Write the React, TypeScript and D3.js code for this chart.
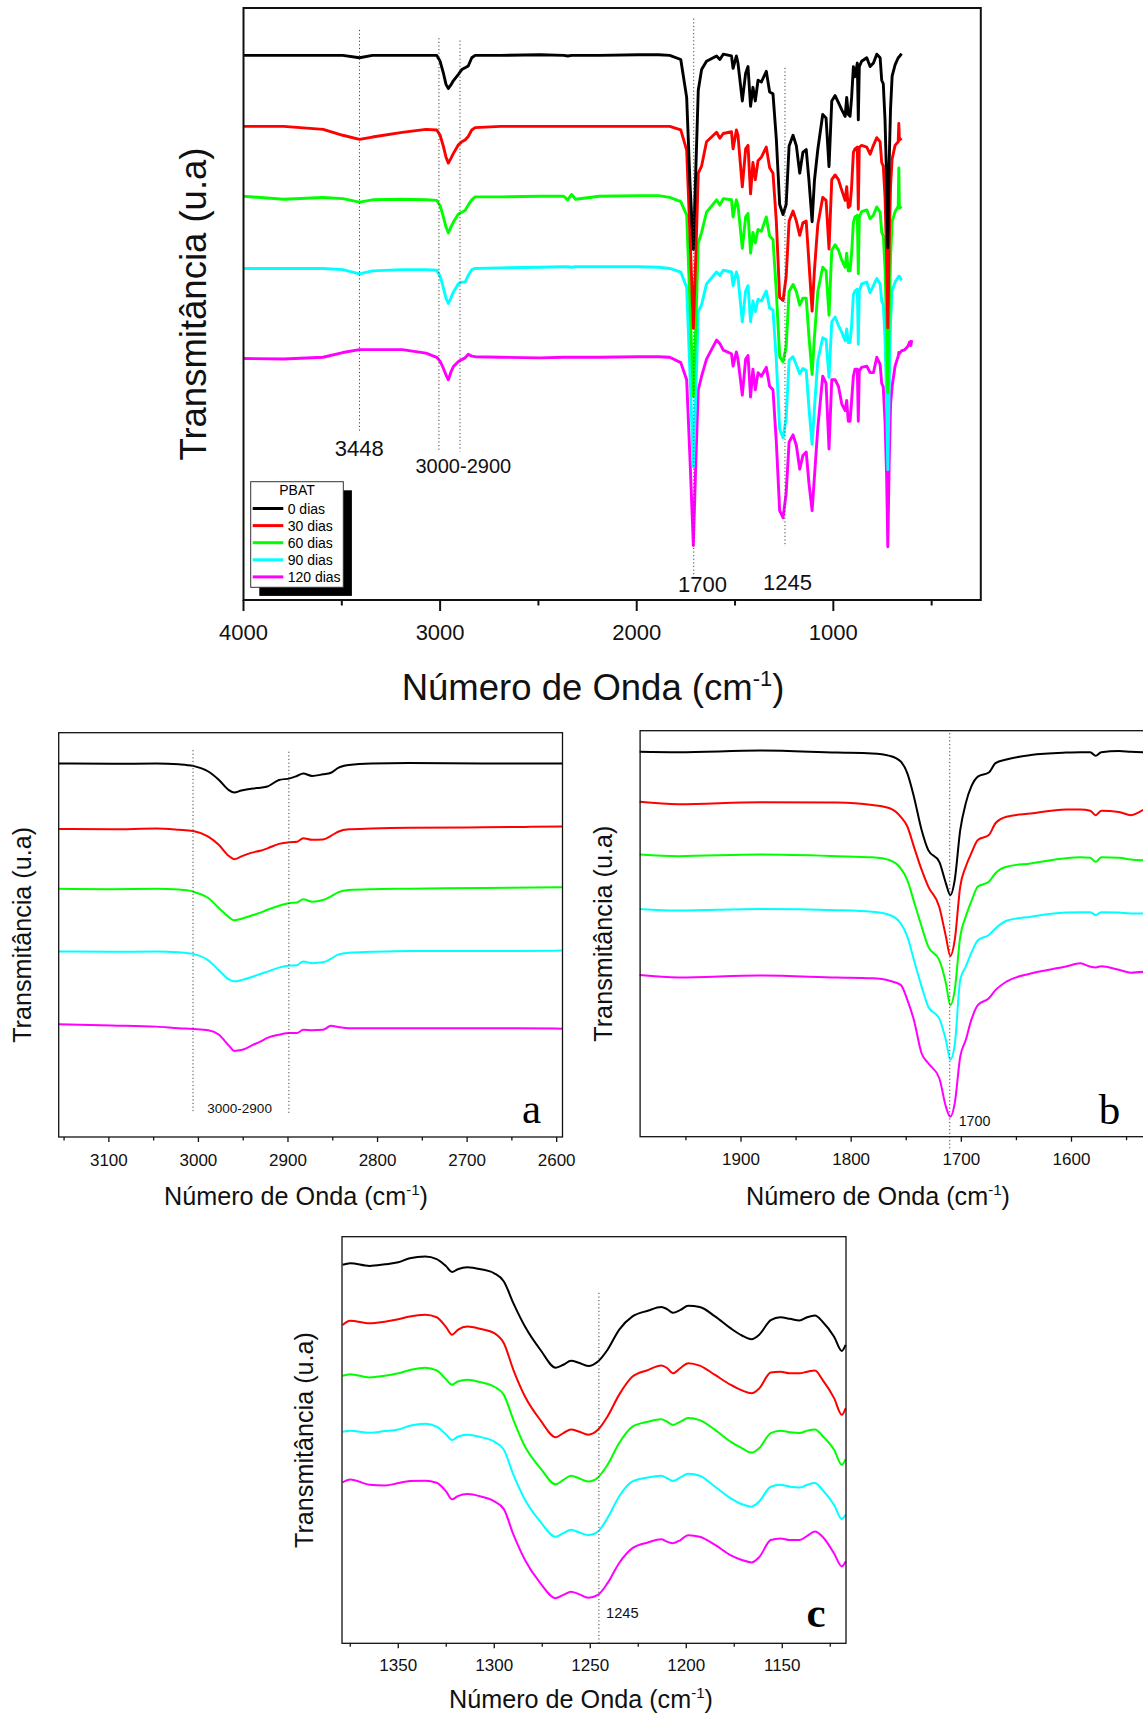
import React from "react";
import * as d3 from "d3";

const seriesLabels = ["0 dias", "30 dias", "60 dias", "90 dias", "120 dias"];
const seriesColors = ["#000000", "#ff0000", "#00ff00", "#00ffff", "#ff00ff"];

// ---------- full spectrum 4000-600 cm-1 (offset + deviation, u.a.)
const mainWn = [
  4000, 3796, 3595, 3495, 3410, 3344, 3193, 3072, 3017, 3000,
  2984, 2970, 2958, 2945, 2933, 2907, 2890, 2873, 2857, 2839,
  2822, 2692, 2491, 2371, 2351, 2331, 2311, 2190, 1990, 1889, 1832,
  1776, 1746, 1729, 1712, 1699, 1687, 1670, 1645, 1594, 1577,
  1560, 1518, 1510, 1493, 1485, 1463, 1446, 1434, 1421, 1409,
  1397, 1383, 1366, 1341, 1324, 1307, 1290, 1273, 1256, 1240,
  1225, 1205, 1188, 1171, 1155, 1138, 1124, 1108, 1096, 1079,
  1054, 1037, 1022, 1008, 991, 974, 957, 940, 932, 924,
  915, 907, 898, 890, 878, 873, 868, 856, 830, 813,
  796, 779, 762, 754, 746, 737, 729, 723, 716, 709,
  701, 686, 670, 667, 664, 653,
  640, 630, 620, 612, 606, 601,
];
const mainOffsets = [92, 80, 68, 56, 41];
const main0 = [
  0, 0, 0, 0, -0.4, 0, 0, 0, 0, -1.0,
  -2.9, -4.9, -5.6, -5.0, -4.3, -3.2, -2.4, -2.1, -1.8, -0.4,
  0, 0, 0.1, 0, -0.1, 0, 0, 0, 0.1, 0.1, 0,
  -0.7, -7.1, -21.7, -32.8, -18.8, -5.9, -2.4, -1.0, -0.1, -0.7,
  0.2, -0.1, -2.2, -0.1, -1.3, -7.7, -3.0, -1.9, -8.6, -5.4,
  -7.7, -4.2, -4.5, -2.7, -6.2, -6.5, -14.1, -25.2, -26.9, -25.2,
  -15.3, -13.5, -15.3, -19.9, -16.4, -15.9, -21.1, -28.1, -21.1, -15.9,
  -10.0, -10.6, -18.8, -7.7, -6.8, -8.0, -9.2, -10.3, -7.1, -10.0,
  -10.3, -7.1, -1.9, -3.6, -1.3, -10.9, -1.9, -1.0, -0.4, -1.9,
  -1.3, 0.2, -0.4, -4.2, -4.8, -11, -21, -32.5, -18, -9,
  -3.5, -1.6, -0.4, -0.3, -0.2, 0.3,
];
const main30 = [
  0, 0, -0.5, -1.5, -2.2, -1.8, -1.0, -0.5, -0.6, -1.5,
  -3.3, -5.2, -6.2, -5.4, -4.6, -3.1, -2.6, -2.3, -1.7, -0.6,
  -0.2, 0, 0, 0, 0, 0, 0, 0, 0, 0, 0,
  -0.6, -4.0, -18.4, -34.1, -21.3, -7.9, -6.7, -2.6, -1.0, -2.0,
  -1.2, -0.9, -3.8, -0.6, -1.5, -10.2, -3.8, -3.2, -11.4, -6.1,
  -9.0, -5.8, -5.2, -3.5, -7.0, -7.9, -16.0, -28.9, -29.4, -25.4,
  -16.0, -14.3, -16.0, -18.4, -16.3, -16.0, -23.0, -31.2, -24.2, -16.6,
  -12.0, -12.5, -20.7, -9.0, -8.2, -9.0, -10.8, -12.5, -10.2, -13.7,
  -13.4, -10.2, -4.4, -3.8, -3.5, -14.0, -3.5, -3.2, -3.5, -4.7,
  -3.2, -1.9, -2.6, -6.1, -6.7, -12, -22, -34, -20, -10,
  -5.5, -3.2, -2.6, 0.5, -2.3, -2.0,
];
const main60 = [
  0.2, -0.3, 0, -0.2, -0.8, -0.4, -0.3, -0.4, -0.5, -1.4,
  -3.2, -5.0, -6.0, -5.0, -4.2, -2.8, -2.5, -2.2, -1.3, -0.4,
  0.1, 0.1, 0.2, 0.2, -0.4, 0.5, -0.3, 0.2, 0.3, 0.3, 0,
  -0.7, -3.0, -18.2, -33.6, -21.1, -7.7, -5.9, -2.5, -0.4, -1.3,
  -0.2, -0.4, -3.3, -0.4, -1.3, -8.6, -3.3, -2.7, -9.4, -5.9,
  -7.7, -5.4, -5.7, -3.3, -6.5, -7.1, -15.9, -26.9, -27.8, -25.2,
  -15.9, -14.7, -15.9, -18.2, -17.0, -17.0, -23.5, -29.9, -23.5, -15.9,
  -11.8, -12.4, -19.9, -8.9, -8.0, -8.9, -10.6, -11.8, -9.4, -12.4,
  -12.4, -9.4, -4.2, -3.3, -3.0, -12.9, -3.3, -2.4, -2.1, -3.6,
  -3.0, -1.6, -2.5, -5.9, -6.5, -12, -22, -33, -20, -10,
  -4.1, -2.4, -1.5, 5.0, -1.8, -1.5,
];
const main90 = [
  0, 0, 0, -0.2, -0.9, -0.4, -0.2, -0.2, -0.3, -1.3,
  -3.2, -5.0, -5.9, -5.0, -4.0, -2.6, -2.3, -2.3, -1.2, -0.2,
  0, 0.1, 0.2, 0.3, 0.3, 0.2, 0.3, 0.3, 0.3, 0.2, 0,
  -0.6, -3.2, -17.8, -33.5, -20.7, -7.3, -6.1, -2.6, -0.6, -1.2,
  -0.3, -0.6, -2.9, -0.6, -1.5, -9.0, -3.8, -2.9, -9.0, -5.5,
  -7.3, -5.2, -5.5, -3.8, -6.7, -7.0, -15.5, -27.1, -28.6, -25.4,
  -15.5, -14.9, -16.3, -17.8, -16.9, -17.2, -23.6, -29.7, -23.6, -15.5,
  -11.7, -12.0, -18.4, -9.0, -8.2, -9.6, -10.8, -12.2, -10.2, -12.5,
  -12.5, -9.6, -4.4, -3.8, -3.5, -12.8, -3.8, -2.6, -2.3, -4.1,
  -2.9, -1.7, -2.6, -5.5, -6.1, -12, -22, -34, -20, -9,
  -3.8, -2.3, -1.5, -1.3, -1.3, -2.0,
];
const main120 = [
  -0.2, -0.3, 0, 0.8, 1.3, 1.3, 1.3, 0.7, 0, -0.7,
  -1.8, -3.0, -3.8, -2.5, -1.6, -0.7, -0.4, -0.1, 0.5, 0.2,
  0.1, 0, -0.1, 0, 0, 0, 0, 0, 0.1, 0.1, 0,
  -0.9, -3.8, -17.2, -31.8, -17.2, -5.5, -3.2, -0.3, 2.9, 2.3,
  1.2, 0.6, -1.5, 0.9, -0.3, -6.4, -0.3, 0.3, -6.7, -2.0,
  -5.5, -2.6, -3.2, -1.7, -4.9, -5.5, -14.3, -25.9, -27.1, -23.0,
  -14.3, -13.1, -14.9, -18.9, -16.6, -16.0, -21.3, -25.9, -20.1, -11.9,
  -3.2, -4.4, -15.5, -3.8, -3.8, -4.9, -7.9, -9.0, -7.3, -10.8,
  -10.8, -7.3, -3.2, -2.0, -2.0, -10.8, -2.3, -1.7, -1.5, -2.6,
  -2.6, 0, -1.2, -4.4, -5.0, -11, -20, -32, -18, -8,
  -4.9, -1.5, 0.2, 0.8, 0.6, 1.1,
  1.2, 1.5, 1.9, 2.6, 2.0, 2.9,
];

// ---------- panel a: 3150-2600 cm-1
const aWn = [3156, 3097, 3047, 3022, 3006, 2989, 2977, 2966, 2960, 2952, 2939, 2931, 2923,
  2910, 2898, 2890, 2883, 2873, 2861, 2852, 2844, 2832, 2807, 2765, 2682, 2594];
const a0 = [92.4, 92.3, 92.4, 92.2, 91.8, 90.4, 88.3, 85.8, 85.2, 85.7, 86.2, 86.4, 86.7,
  88.3, 88.7, 89.3, 89.9, 89.3, 89.7, 90.1, 91.3, 92.0, 92.4, 92.5, 92.4, 92.4];
const a30 = [76.2, 76.1, 76.3, 76.0, 75.7, 74.3, 72.2, 69.5, 68.7, 69.4, 70.4, 70.8, 71.4,
  72.5, 72.9, 73.0, 73.9, 73.5, 73.6, 74.5, 75.5, 76.1, 76.3, 76.5, 76.6, 76.8];
const a60 = [61.4, 61.3, 61.4, 61.2, 60.7, 59.1, 56.6, 54.4, 53.6, 54.0, 54.9, 55.5, 56.2,
  57.2, 57.9, 58.0, 58.8, 58.2, 58.6, 59.5, 60.5, 61.1, 61.3, 61.4, 61.6, 61.8];
const a90 = [45.9, 45.8, 45.9, 45.7, 45.3, 43.7, 41.2, 39.0, 38.5, 38.8, 39.7, 40.3, 40.9,
  41.9, 42.4, 42.5, 43.4, 43.0, 43.2, 44.1, 45.1, 45.6, 45.8, 46.0, 46.0, 46.1];
const a120 = [27.9, 27.6, 27.3, 26.9, 26.7, 26.4, 25.3, 22.6, 21.3, 21.5, 22.8, 23.6, 24.5,
  25.3, 25.7, 25.7, 26.5, 26.4, 26.5, 27.5, 27.2, 26.9, 26.9, 26.9, 26.9, 26.8];

// ---------- panel b: 1990-1535 cm-1
const bWn = [1992, 1957, 1883, 1813, 1781, 1765, 1755, 1749, 1743, 1736,
  1730, 1720, 1714, 1710, 1706, 1701, 1696, 1691, 1685, 1675,
  1669, 1659, 1637, 1605, 1592, 1583, 1578, 1573, 1557, 1546, 1535];
const b0 = [94.8, 94.7, 95.1, 94.6, 94.4, 93.8, 92.4, 89.5, 83.7, 75.5,
  70.6, 67.7, 62.4, 59.5, 63.2, 75.5, 82.1, 86.2, 88.7, 89.7,
  92.0, 92.9, 94.0, 94.6, 94.7, 94.7, 93.8, 94.7, 95.0, 94.8, 94.7];
const b30 = [82.5, 81.9, 82.4, 82.3, 81.7, 80.9, 78.8, 76.4, 71.4, 65.7,
  61.6, 56.6, 49.3, 44.5, 48.4, 61.6, 66.5, 69.8, 73.1, 74.3,
  77.2, 78.8, 79.6, 80.6, 80.6, 80.3, 79.2, 80.3, 80.0, 79.2, 80.5];
const b60 = [69.5, 69.1, 69.5, 69.1, 68.8, 68.1, 66.1, 63.2, 57.9, 51.7,
  46.8, 43.5, 37.8, 32.4, 36.1, 49.3, 54.2, 57.9, 61.6, 62.8,
  64.9, 66.5, 67.3, 68.6, 68.8, 68.7, 67.7, 68.8, 68.7, 68.3, 68.1];
const b90 = [56.1, 55.7, 56.1, 55.8, 55.4, 54.6, 52.5, 49.3, 43.5, 36.9,
  32.0, 29.1, 23.8, 19.0, 22.6, 38.6, 41.9, 45.2, 48.4, 49.7,
  51.3, 53.2, 54.2, 55.2, 55.3, 55.3, 54.6, 55.3, 55.2, 55.0, 55.0];
const b120 = [39.8, 39.2, 39.7, 39.2, 39.0, 38.4, 37.4, 33.7, 28.7, 20.5,
  18.1, 14.4, 7.4, 4.9, 8.2, 19.7, 23.8, 28.7, 32.4, 34.1,
  36.1, 38.2, 40.2, 41.9, 42.7, 41.9, 41.7, 42.0, 41.1, 40.4, 40.6];

// ---------- panel c: 1380-1115 cm-1
const cWn = [1379, 1375, 1365, 1357, 1350, 1344, 1336, 1330, 1325, 1322,
  1319, 1314, 1307, 1300, 1295, 1290, 1284, 1276, 1268, 1264,
  1260, 1256, 1251, 1246, 1241, 1235, 1228, 1220, 1213, 1210,
  1207, 1203, 1199, 1193, 1185, 1177, 1171, 1166, 1162, 1156,
  1151, 1146, 1141, 1137, 1133, 1129, 1123, 1119, 1117];
const c0 = [93.1, 93.5, 92.8, 93.2, 93.7, 94.7, 95.1, 94.5, 92.7, 91.3,
  92.0, 92.5, 92.0, 91.0, 89.0, 83.6, 77.9, 72.2, 67.8, 68.5,
  69.5, 69.0, 68.2, 69.3, 72.2, 77.1, 80.4, 81.8, 82.7, 82.2,
  81.3, 82.0, 83.0, 82.7, 80.4, 77.5, 75.7, 74.8, 75.9, 79.5,
  80.2, 79.8, 79.4, 80.2, 80.6, 79.1, 75.4, 71.9, 73.4];
const c30 = [78.3, 79.3, 78.7, 79.1, 79.7, 80.4, 80.8, 80.2, 77.7, 75.9,
  77.1, 77.9, 77.3, 76.3, 73.8, 67.2, 60.7, 54.9, 50.7, 51.7,
  52.6, 52.1, 51.3, 52.5, 55.8, 61.1, 65.6, 67.2, 68.3, 67.7,
  66.4, 67.7, 68.9, 68.3, 66.0, 63.6, 62.2, 61.5, 62.7, 66.6,
  66.8, 66.4, 66.4, 66.8, 67.1, 64.8, 60.3, 56.2, 57.8];
const c60 = [65.8, 66.2, 65.4, 65.8, 66.4, 67.2, 67.8, 67.1, 64.9, 63.6,
  64.4, 64.8, 64.2, 63.1, 61.1, 54.9, 48.4, 43.1, 39.1, 40.2,
  41.2, 40.6, 39.8, 40.8, 43.9, 49.2, 53.3, 54.5, 55.1, 54.5,
  53.7, 54.5, 55.4, 54.9, 52.5, 49.6, 48.0, 46.9, 48.0, 51.7,
  52.3, 51.9, 51.7, 52.3, 52.6, 51.0, 47.6, 43.9, 45.3];
const c90 = [52.0, 52.3, 51.8, 52.2, 52.6, 53.5, 54.0, 53.3, 51.3, 50.0,
  50.8, 51.3, 50.7, 49.6, 47.6, 41.4, 35.3, 29.9, 26.2, 27.1,
  27.9, 27.3, 26.6, 27.5, 30.8, 36.1, 39.8, 40.8, 41.2, 40.6,
  39.9, 40.8, 41.7, 41.2, 38.5, 35.7, 34.2, 33.6, 34.9, 38.5,
  39.0, 38.5, 38.3, 39.0, 39.4, 37.7, 34.0, 30.6, 31.6];
const c120 = [39.6, 40.3, 39.0, 38.8, 39.4, 39.9, 40.0, 39.5, 37.3, 35.4,
  36.2, 36.7, 36.1, 34.9, 33.0, 26.7, 20.5, 14.8, 11.1, 11.9,
  12.7, 12.1, 11.2, 11.9, 14.8, 19.7, 23.4, 24.8, 25.6, 25.0,
  24.6, 25.4, 26.6, 26.2, 24.2, 21.7, 20.5, 19.9, 21.2, 25.4,
  25.8, 25.4, 25.4, 26.4, 27.5, 26.2, 22.1, 18.9, 20.1];

// ticks
const mainMajor = [4000, 3000, 2000, 1000];
const mainMinor = [3500, 2500, 1500, 500];
const aMajor = [3100, 3000, 2900, 2800, 2700, 2600];
const aMinor = [3150, 3050, 2950, 2850, 2750, 2650];
const bMajor = [1900, 1800, 1700, 1600];
const bMinor = [1950, 1850, 1750, 1650, 1550];
const cMajor = [1350, 1300, 1250, 1200, 1150];
const cMinor = [1375, 1325, 1275, 1225, 1175, 1125];

// reference lines [wavenumber, from, to] and notes
const mainMarks = [[3410, 96.3, 28.2], [3006, 94.9, 25.1], [2899, 94.5, 25.1], [1710, 98.2, 3.9], [1246, 89.9, 9.0]];
const mainNotes = [
  { t: "3448", wn: 3411, v: 24.3, s: 22 },
  { t: "3000-2900", wn: 2882, v: 21.4, s: 20 },
  { t: "1700", wn: 1665, v: 1.4, s: 22 },
  { t: "1245", wn: 1233, v: 1.7, s: 22 },
];
const aMarks = [[3006, 95.7, 6.4], [2899, 95.3, 5.9]];
const aNotes = [{ t: "3000-2900", wn: 2954, v: 5.9, s: 13.5 }];
const bMarks = [[1710.5, 99.4, -3.3]];
const bNotes = [{ t: "1700", wn: 1688, v: 2.6, s: 14.3 }];
const cMarks = [[1245.5, 86.2, 0]];
const cNotes = [{ t: "1245", wn: 1233.3, v: 6.3, s: 14.7 }];

const SANS = "'Liberation Sans', Arial, Helvetica, sans-serif";
const SERIF = "'Liberation Serif', 'Times New Roman', serif";

type Box = { left: number; right: number; top: number; bottom: number };
type Cfg = {
  box: Box;
  domain: [number, number];
  wn: number[];
  series: number[][];
  offsets?: number[];
  major: number[];
  minor: number[];
  marks: number[][];
  notes: { t: string; wn: number; v: number; s: number }[];
  curve: d3.CurveFactory;
  lw: number;
  frameW: number;
  tickLen: [number, number];
  tickFont: number;
  tickDy: number;
  titleFont: number;
  yTitleFont: number;
  titleX: number;
  titleY: number;
  yTitleX: number;
  letter?: { t: string; wn: number; v: number; bold?: boolean };
};

function Panel({ c }: { c: Cfg }) {
  const x = d3.scaleLinear().domain(c.domain).range([c.box.left, c.box.right]);
  const y = d3.scaleLinear().domain([0, 100]).range([c.box.bottom, c.box.top]);
  const line = d3
    .line<[number, number]>()
    .x((d) => x(d[0]))
    .y((d) => y(d[1]))
    .curve(c.curve);
  const order = [4, 3, 2, 1, 0];
  const sup = c.titleFont * 0.6;
  const raise = c.titleFont * 0.38;
  return (
    <g>
      {order.map((i) => {
        const off = c.offsets ? c.offsets[i] : 0;
        const pts = c.series[i].map((v, j) => [c.wn[j], off + v] as [number, number]);
        return (
          <path
            key={i}
            d={line(pts) || ""}
            fill="none"
            stroke={seriesColors[i]}
            strokeWidth={c.lw}
            strokeLinejoin="round"
          />
        );
      })}
      {c.marks.map((m, i) => (
        <line
          key={"m" + i}
          x1={x(m[0])}
          x2={x(m[0])}
          y1={y(m[1])}
          y2={y(m[2])}
          stroke="#444"
          strokeWidth={1}
          strokeDasharray="1.2,2.4"
        />
      ))}
      {c.notes.map((n, i) => (
        <text key={"n" + i} x={x(n.wn)} y={y(n.v)} fontSize={n.s} textAnchor="middle" fontFamily={SANS} fill="#111">
          {n.t}
        </text>
      ))}
      {c.letter && (
        <text
          x={x(c.letter.wn)}
          y={y(c.letter.v)}
          fontSize={43}
          textAnchor="middle"
          fontFamily={SERIF}
          fontWeight={c.letter.bold ? "bold" : "normal"}
        >
          {c.letter.t}
        </text>
      )}
      <rect
        x={c.box.left}
        y={c.box.top}
        width={c.box.right - c.box.left}
        height={c.box.bottom - c.box.top}
        fill="none"
        stroke="#111"
        strokeWidth={c.frameW}
      />
      {c.major.map((t) => (
        <g key={"t" + t}>
          <line x1={x(t)} x2={x(t)} y1={c.box.bottom} y2={c.box.bottom + c.tickLen[0]} stroke="#111" strokeWidth={c.frameW} />
          <text x={x(t)} y={c.box.bottom + c.tickDy} fontSize={c.tickFont} textAnchor="middle" fontFamily={SANS} fill="#111">
            {t}
          </text>
        </g>
      ))}
      {c.minor.map((t) => (
        <line key={"k" + t} x1={x(t)} x2={x(t)} y1={c.box.bottom} y2={c.box.bottom + c.tickLen[1]} stroke="#111" strokeWidth={c.frameW} />
      ))}
      <text x={c.titleX} y={c.titleY} fontSize={c.titleFont} textAnchor="middle" fontFamily={SANS} fill="#111">
        Número de Onda (cm
        <tspan fontSize={sup} dy={-raise}>-1</tspan>
        <tspan dy={raise}>)</tspan>
      </text>
      <text
        transform={`translate(${c.yTitleX},${(c.box.top + c.box.bottom) / 2}) rotate(-90)`}
        fontSize={c.yTitleFont}
        textAnchor="middle"
        fontFamily={SANS}
        fill="#111"
      >
        Transmitância (u.a)
      </text>
    </g>
  );
}

export default function App() {
  const mainCfg: Cfg = {
    box: { left: 243.5, right: 980.8, top: 8, bottom: 600 },
    domain: [4000, 250],
    wn: mainWn,
    series: [main0, main30, main60, main90, main120],
    offsets: mainOffsets,
    major: mainMajor,
    minor: mainMinor,
    marks: mainMarks,
    notes: mainNotes,
    curve: d3.curveLinear,
    lw: 2.9,
    frameW: 2,
    tickLen: [11, 5.5],
    tickFont: 22,
    tickDy: 40,
    titleFont: 36.5,
    yTitleFont: 36.5,
    titleX: 593,
    titleY: 700,
    yTitleX: 206,
  };
  const aCfg: Cfg = {
    box: { left: 58.7, right: 562.5, top: 732.7, bottom: 1137 },
    domain: [3156, 2593.5],
    wn: aWn,
    series: [a0, a30, a60, a90, a120],
    major: aMajor,
    minor: aMinor,
    marks: aMarks,
    notes: aNotes,
    curve: d3.curveMonotoneX,
    lw: 2,
    frameW: 1.3,
    tickLen: [5, 3.5],
    tickFont: 17,
    tickDy: 29,
    titleFont: 25.2,
    yTitleFont: 25.2,
    titleX: 296,
    titleY: 1205,
    yTitleX: 31,
    letter: { t: "a", wn: 2628, v: 3.4 },
  };
  const bCfg: Cfg = {
    box: { left: 640.1, right: 1148.6, top: 730.7, bottom: 1136.7 },
    domain: [1991.6, 1530],
    wn: bWn,
    series: [b0, b30, b60, b90, b120],
    major: bMajor,
    minor: bMinor,
    marks: bMarks,
    notes: bNotes,
    curve: d3.curveMonotoneX,
    lw: 2,
    frameW: 1.3,
    tickLen: [5, 3.5],
    tickFont: 17,
    tickDy: 28.5,
    titleFont: 25.2,
    yTitleFont: 25.2,
    titleX: 878,
    titleY: 1205,
    yTitleX: 612,
    letter: { t: "b", wn: 1565.6, v: 3.1 },
  };
  const cCfg: Cfg = {
    box: { left: 342, right: 846, top: 1236.7, bottom: 1643.3 },
    domain: [1379.3, 1116.8],
    wn: cWn,
    series: [c0, c30, c60, c90, c120],
    major: cMajor,
    minor: cMinor,
    marks: cMarks,
    notes: cNotes,
    curve: d3.curveMonotoneX,
    lw: 2,
    frameW: 1.3,
    tickLen: [5, 3.5],
    tickFont: 17,
    tickDy: 28,
    titleFont: 25.2,
    yTitleFont: 25.2,
    titleX: 581,
    titleY: 1708,
    yTitleX: 313,
    letter: { t: "c", wn: 1132.4, v: 4.0, bold: true },
  };

  // legend
  const lg = { x: 250.7, y: 481.7, w: 92.6, h: 105.6, shadow: 8.6 };
  const rowY = d3.range(seriesLabels.length).map((i) => lg.y + 26.8 + i * 17.1);

  return (
    <svg
      width={1143}
      height={1718}
      style={{ position: "absolute", left: 0, top: 0, background: "#fff" }}
    >
      <rect width={1143} height={1718} fill="#fff" />
      <Panel c={mainCfg} />
      <Panel c={aCfg} />
      <Panel c={bCfg} />
      <Panel c={cCfg} />
      <g>
        <rect x={lg.x + lg.shadow} y={lg.y + lg.shadow} width={lg.w} height={lg.h} fill="#000" />
        <rect x={lg.x} y={lg.y} width={lg.w} height={lg.h} fill="#fff" stroke="#333" strokeWidth={1} />
        <text x={lg.x + lg.w / 2} y={lg.y + 13.5} fontSize={14} textAnchor="middle" fontFamily={SANS}>
          PBAT
        </text>
        {seriesLabels.map((s, i) => (
          <g key={s}>
            <line x1={lg.x + 2} x2={lg.x + 32.6} y1={rowY[i]} y2={rowY[i]} stroke={seriesColors[i]} strokeWidth={3} />
            <text x={lg.x + 37} y={rowY[i] + 5} fontSize={14} fontFamily={SANS}>
              {s}
            </text>
          </g>
        ))}
      </g>
    </svg>
  );
}
